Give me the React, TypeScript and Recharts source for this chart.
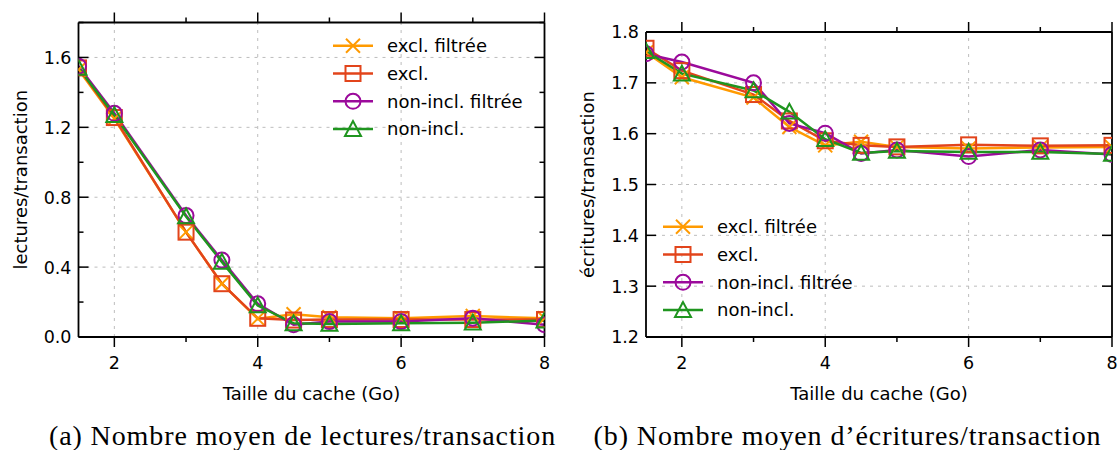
import React from 'react';
import { LineChart, Line, XAxis, YAxis, ReferenceLine, Legend } from 'recharts';

// ---------- data ----------
const cacheSizes = [1.5, 2, 3, 3.5, 4, 4.5, 5, 6, 7, 8];

const seriesNames = ['excl. filtrée', 'excl.', 'non-incl. filtrée', 'non-incl.'];
const seriesKeys = ['exclF', 'excl', 'nonInclF', 'nonIncl'];
const seriesColors = ['#ff9a00', '#e2441b', '#9b0a9b', '#1f951f'];
const seriesShapes = ['x', 'square', 'circle', 'triangle'];

const readsExclFiltree = [1.53, 1.25, 0.6, 0.305, 0.105, 0.13, 0.113, 0.107, 0.12, 0.107];
const readsExcl = [1.54, 1.256, 0.6, 0.305, 0.107, 0.097, 0.1, 0.1, 0.1, 0.1];
const readsNonInclFiltree = [1.55, 1.28, 0.695, 0.44, 0.19, 0.07, 0.088, 0.088, 0.108, 0.07];
const readsNonIncl = [1.54, 1.27, 0.69, 0.43, 0.18, 0.078, 0.074, 0.078, 0.082, 0.094];

const writesExclFiltree = [1.76, 1.711, 1.671, 1.613, 1.577, 1.584, 1.574, 1.571, 1.573, 1.574];
const writesExcl = [1.768, 1.724, 1.677, 1.625, 1.586, 1.577, 1.574, 1.578, 1.576, 1.577];
const writesNonInclFiltree = [1.757, 1.741, 1.7, 1.62, 1.601, 1.561, 1.568, 1.555, 1.568, 1.559];
const writesNonIncl = [1.762, 1.718, 1.685, 1.643, 1.589, 1.562, 1.566, 1.564, 1.564, 1.56];

const xTicks = [2, 3, 4, 5, 6, 7, 8];
const xMajorTicks = [2, 4, 6, 8];
const xGridTicks = [2, 4, 6];

const readsYTicks = [0, 0.2, 0.4, 0.6, 0.8, 1.0, 1.2, 1.4, 1.6, 1.8];
const readsYMajor = [0, 0.4, 0.8, 1.2, 1.6];
const readsYGrid = [0.4, 0.8, 1.2, 1.6];

const writesYTicks = [1.2, 1.3, 1.4, 1.5, 1.6, 1.7, 1.8];
const writesYMajor = [1.2, 1.3, 1.4, 1.5, 1.6, 1.7, 1.8];
const writesYGrid = [1.3, 1.4, 1.5, 1.6, 1.7];

const buildRows = (a: number[], b: number[], c: number[], d: number[]) =>
  cacheSizes.map((x, i) => ({ x, exclF: a[i], excl: b[i], nonInclF: c[i], nonIncl: d[i] }));

const readsData = buildRows(readsExclFiltree, readsExcl, readsNonInclFiltree, readsNonIncl);
const writesData = buildRows(writesExclFiltree, writesExcl, writesNonInclFiltree, writesNonIncl);

// ---------- styles ----------
const SANS = 'DejaVu Sans, sans-serif';
const SERIF = 'Liberation Serif, serif';
const TICK_FS = 17.5;
const LABEL_FS = 18;
const MAJOR = 10;
const MINOR = 5;
const AX = 1; // axis thickness reserved in layout
const isMajor = (v: number, majors: number[]) => majors.some((m) => Math.abs(m - v) < 1e-6);

function Marker({ shape, cx, cy, color }: { shape: string; cx: number; cy: number; color: string }) {
  const sw = 2;
  if (shape === 'x') {
    const s = 7;
    return (
      <g stroke={color} strokeWidth={sw} fill="none">
        <line x1={cx - s} y1={cy - s} x2={cx + s} y2={cy + s} />
        <line x1={cx - s} y1={cy + s} x2={cx + s} y2={cy - s} />
      </g>
    );
  }
  if (shape === 'square') {
    const s = 7.5;
    return <rect x={cx - s} y={cy - s} width={2 * s} height={2 * s} fill="none" stroke={color} strokeWidth={sw} />;
  }
  if (shape === 'circle') {
    return <circle cx={cx} cy={cy} r={7.5} fill="none" stroke={color} strokeWidth={sw} />;
  }
  const s = 8;
  return (
    <polygon
      points={`${cx},${cy - s} ${cx - s},${cy + s * 0.85} ${cx + s},${cy + s * 0.85}`}
      fill="none"
      stroke={color}
      strokeWidth={sw}
      strokeLinejoin="miter"
    />
  );
}

const fmt1 = (v: number) => v.toFixed(1);

type PanelProps = {
  data: any[];
  width: number;
  plotLeft: number;
  plotRight: number;
  plotTop: number;
  plotBottom: number;
  yDomain: [number, number];
  yTicks: number[];
  yMajor: number[];
  yGrid: number[];
  yLabel: string;
  caption: string;
  captionX: number;
  legendLeft: number;
  legendTop: number;
};

const HEIGHT = 450;

function Panel(p: PanelProps) {
  const margin = {
    top: p.plotTop - AX,
    left: p.plotLeft - AX,
    right: p.width - p.plotRight - AX,
    bottom: HEIGHT - p.plotBottom - AX,
  };

  const bottomTick = (t: any) => {
    const v = t.payload.value;
    const maj = isMajor(v, xMajorTicks);
    const y0 = p.plotBottom;
    return (
      <g>
        <line x1={t.x} y1={y0} x2={t.x} y2={y0 + (maj ? MAJOR : MINOR)} stroke="#000" strokeWidth={1.5} />
        {maj && (
          <text x={t.x} y={y0 + 32} textAnchor="middle" fontFamily={SANS} fontSize={TICK_FS} fill="#000">
            {String(v)}
          </text>
        )}
      </g>
    );
  };
  const topTick = (t: any) => {
    const maj = isMajor(t.payload.value, xMajorTicks);
    const y0 = p.plotTop;
    return <line x1={t.x} y1={y0} x2={t.x} y2={y0 - (maj ? MAJOR : MINOR)} stroke="#000" strokeWidth={1.5} />;
  };
  const leftTick = (t: any) => {
    const v = t.payload.value;
    const maj = isMajor(v, p.yMajor);
    const x0 = p.plotLeft;
    return (
      <g>
        <line x1={x0} y1={t.y} x2={x0 + (maj ? MAJOR : MINOR)} y2={t.y} stroke="#000" strokeWidth={1.5} />
        {maj && (
          <text x={x0 - 7} y={t.y + 6.4} textAnchor="end" fontFamily={SANS} fontSize={TICK_FS} fill="#000">
            {fmt1(v)}
          </text>
        )}
      </g>
    );
  };
  const rightTick = (t: any) => {
    const maj = isMajor(t.payload.value, p.yMajor);
    const x0 = p.plotRight;
    return <line x1={x0} y1={t.y} x2={x0 - (maj ? MAJOR : MINOR)} y2={t.y} stroke="#000" strokeWidth={1.5} />;
  };

  const xLabel = () => {
    const cx = (p.plotLeft + p.plotRight) / 2;
    return (
      <g>
        <text x={cx} y={p.plotBottom + 63} textAnchor="middle" fontFamily={SANS} fontSize={LABEL_FS} fill="#000">
          Taille du cache (Go)
        </text>
        <text
          x={p.captionX}
          y={445}
          textAnchor="middle"
          fontFamily={SERIF}
          fontSize={28}
          letterSpacing={0.9}
          fill="#000"
        >
          {p.caption}
        </text>
      </g>
    );
  };

  const yLabel = () => {
    const cy = (p.plotTop + p.plotBottom) / 2;
    const bx = p.plotLeft - 52;
    return (
      <text
        x={bx}
        y={cy}
        transform={`rotate(-90, ${bx}, ${cy})`}
        textAnchor="middle"
        fontFamily={SANS}
        fontSize={LABEL_FS}
        fill="#000"
      >
        {p.yLabel}
      </text>
    );
  };

  const legendContent = (lp: any) => {
    const payload = (lp && lp.payload) || [];
    const items = seriesNames.map((name, i) => {
      const entry = payload.find((e: any) => e.dataKey === seriesKeys[i]);
      return { name: entry?.value ?? name, color: entry?.color ?? seriesColors[i], shape: seriesShapes[i] };
    });
    return (
      <svg width={240} height={120} style={{ display: 'block' }}>
        {items.map((it, i) => {
          const cy = 15.7 + 27.8 * i;
          return (
            <g key={it.name}>
              <line x1={8} y1={cy} x2={48} y2={cy} stroke={it.color} strokeWidth={2.5} />
              <Marker shape={it.shape} cx={28} cy={cy} color={it.color} />
              <text x={62} y={cy + 6.3} fontFamily={SANS} fontSize={LABEL_FS} fill="#000">
                {it.name}
              </text>
            </g>
          );
        })}
      </svg>
    );
  };

  const axisLine = { stroke: '#000', strokeWidth: 1.8 };

  return (
    <LineChart width={p.width} height={HEIGHT} data={p.data} margin={margin}>
      {xGridTicks.map((v) => (
        <ReferenceLine key={`gx${v}`} x={v} stroke="#bdbdbd" strokeWidth={1} strokeDasharray="3 5" ifOverflow="hidden" />
      ))}
      {p.yGrid.map((v) => (
        <ReferenceLine key={`gy${v}`} y={v} stroke="#bdbdbd" strokeWidth={1} strokeDasharray="3 5" ifOverflow="hidden" />
      ))}
      <XAxis
        dataKey="x"
        type="number"
        domain={[1.5, 8]}
        allowDataOverflow
        ticks={xTicks}
        interval={0}
        height={AX}
        tickSize={0}
        tickMargin={0}
        tickLine={false}
        axisLine={false}
        tick={bottomTick}
        label={xLabel}
      />
      <XAxis
        xAxisId="top"
        orientation="top"
        dataKey="x"
        type="number"
        domain={[1.5, 8]}
        allowDataOverflow
        ticks={xTicks}
        interval={0}
        height={AX}
        tickSize={0}
        tickMargin={0}
        tickLine={false}
        axisLine={false}
        tick={topTick}
      />
      <YAxis
        type="number"
        domain={p.yDomain}
        allowDataOverflow
        ticks={p.yTicks}
        interval={0}
        width={AX}
        tickSize={0}
        tickMargin={0}
        tickLine={false}
        axisLine={false}
        tick={leftTick}
        label={yLabel}
      />
      <YAxis
        yAxisId="right"
        orientation="right"
        type="number"
        domain={p.yDomain}
        allowDataOverflow
        ticks={p.yTicks}
        interval={0}
        width={AX}
        tickSize={0}
        tickMargin={0}
        tickLine={false}
        axisLine={false}
        tick={rightTick}
      />
      {seriesKeys.map((k, i) => (
        <Line
          key={k}
          type="linear"
          dataKey={k}
          name={seriesNames[i]}
          stroke={seriesColors[i]}
          strokeWidth={2.5}
          isAnimationActive={false}
          activeDot={false}
          dot={(d: any) => (
            <Marker key={`${k}-${d.index}`} shape={seriesShapes[i]} cx={d.cx} cy={d.cy} color={seriesColors[i]} />
          )}
        />
      ))}
      {/* plot frame drawn from the axis scales */}
      <ReferenceLine y={p.yDomain[0]} stroke={axisLine.stroke} strokeWidth={axisLine.strokeWidth} ifOverflow="extendDomain" />
      <ReferenceLine y={p.yDomain[1]} stroke={axisLine.stroke} strokeWidth={axisLine.strokeWidth} ifOverflow="extendDomain" />
      <ReferenceLine x={1.5} stroke={axisLine.stroke} strokeWidth={axisLine.strokeWidth} ifOverflow="extendDomain" />
      <ReferenceLine x={8} stroke={axisLine.stroke} strokeWidth={axisLine.strokeWidth} ifOverflow="extendDomain" />
      <Legend
        layout="vertical"
        align="center"
        verticalAlign="middle"
        content={legendContent}
        wrapperStyle={{ left: p.legendLeft, top: p.legendTop, width: 240, height: 120, right: 'auto', bottom: 'auto' }}
      />
    </LineChart>
  );
}

export default function App() {
  return (
    <div style={{ position: 'absolute', left: 0, top: 0, width: 1119, height: 450, background: '#fff', overflow: 'hidden' }}>
      <div style={{ position: 'absolute', left: 0, top: 0 }}>
        <Panel
          data={readsData}
          width={560}
          plotLeft={78.5}
          plotRight={544.5}
          plotTop={22.5}
          plotBottom={337}
          yDomain={[0, 1.8]}
          yTicks={readsYTicks}
          yMajor={readsYMajor}
          yGrid={readsYGrid}
          yLabel="lectures/transaction"
          caption="(a) Nombre moyen de lectures/transaction"
          captionX={302.5}
          legendLeft={325}
          legendTop={30}
        />
      </div>
      <div style={{ position: 'absolute', left: 560, top: 0 }}>
        <Panel
          data={writesData}
          width={559}
          plotLeft={86}
          plotRight={552}
          plotTop={32}
          plotBottom={337}
          yDomain={[1.2, 1.8]}
          yTicks={writesYTicks}
          yMajor={writesYMajor}
          yGrid={writesYGrid}
          yLabel="écritures/transaction"
          caption="(b) Nombre moyen d’écritures/transaction"
          captionX={287.5}
          legendLeft={95}
          legendTop={211}
        />
      </div>
    </div>
  );
}
